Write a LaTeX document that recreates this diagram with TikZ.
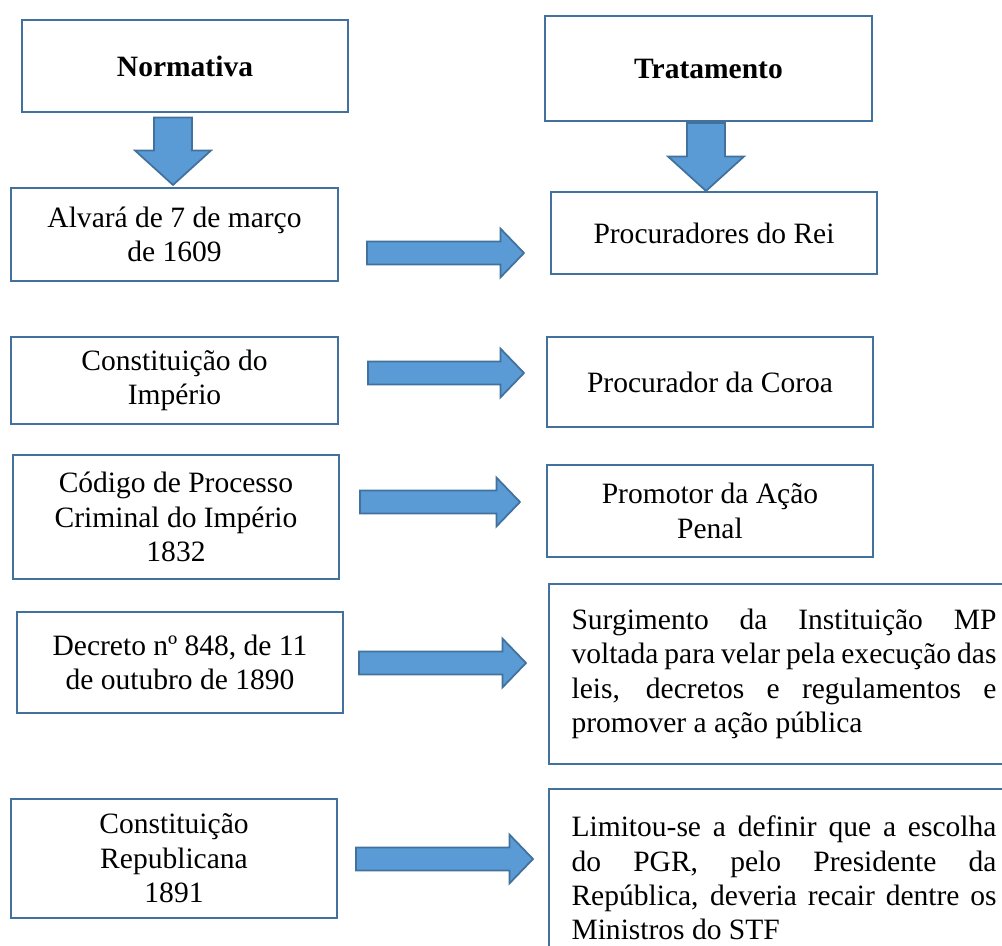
\documentclass[tikz,border=0pt]{standalone}
\usepackage{fontspec}
\setmainfont{Liberation Serif}
\usetikzlibrary{calc}
\definecolor{boxedge}{HTML}{41719C}
\definecolor{arrowfill}{HTML}{5B9BD5}

\begin{document}
\begin{tikzpicture}[
            x=0.02cm, y=-0.02cm,
            font=\fontsize{16.8}{19.6}\selectfont,
            box/.style={draw=boxedge, line width=1.2pt, align=center,
                minimum width=6.52cm, inner sep=0pt},
            textbox/.style={draw=boxedge, line width=1.2pt, anchor=north west,
                align=justify, text width=8.5cm, inner xsep=0.44cm,
                minimum width=9.4cm},
            blockarrow/.style={draw=boxedge, fill=arrowfill, line width=1pt,
                line join=miter},
            fatright/.style={blockarrow, to path={
                let \p1=(\tikztostart), \p2=(\tikztotarget) in
                (\x1,\y1+6.5pt) -- (\x2-13.4pt,\y1+6.5pt) -- (\x2-13.4pt,\y1+13.9pt)
                -- (\x2,\y1) -- (\x2-13.4pt,\y1-13.9pt) -- (\x2-13.4pt,\y1-6.5pt)
                -- (\x1,\y1-6.5pt) -- cycle}},
            fatdown/.style={blockarrow, to path={
                let \p1=(\tikztostart), \p2=(\tikztotarget) in
                (\x1+10.8pt,\y1) -- (\x1+10.8pt,\y2+19.6pt) -- (\x1+21.6pt,\y2+19.6pt)
                -- (\x1,\y2) -- (\x1-21.6pt,\y2+19.6pt) -- (\x1-10.8pt,\y2+19.6pt)
                -- (\x1-10.8pt,\y1) -- cycle}}]
            \useasboundingbox (0,0) rectangle (1002,946);
            \clip (0,0) rectangle (1002,946);

            \node [box, minimum height=1.84cm] (norm) at (185,66) {\textbf{Normativa}};
            \node [box, minimum width=6.54cm, minimum height=2.1cm] (trat) at (708.5,68.5) {\textbf{Tratamento}};

            \node [box, minimum width=6.54cm, minimum height=1.86cm] (alvara) at (174.5,234.5) {Alvará de 7 de março\\de 1609};
            \node [box, minimum height=1.64cm] (rei) at (714,233) {Procuradores do Rei};

            \node [box, minimum width=6.54cm, minimum height=1.74cm] (imperio) at (174.5,380.5) {Constituição do\\Império};
            \node [box, minimum height=1.8cm] (coroa) at (710,382) {Procurador da Coroa};

            \node [box, minimum height=2.48cm] (codigo) at (176,517) {Código de Processo\\Criminal do Império\\1832};
            \node [box, minimum height=1.84cm] (promotor) at (710,511) {Promotor da Ação\\Penal};

            \node [box, minimum height=2.02cm] (decreto) at (180,662.5) {Decreto nº 848, de 11\\de outubro de 1890};
            \node [textbox, minimum height=3.6cm] (surg) at (548,583) {Surgimento da Instituição MP\linebreak
                voltada para velar pela execução das\linebreak
                leis, decretos e regulamentos e\linebreak
                promover a ação pública};

            \node [box, minimum height=2.38cm] (repub) at (174,858.5) {Constituição\\Republicana\\1891};
            \node [textbox, minimum height=3.56cm] (limitou) at (548,788) {Limitou-se a definir que a escolha\linebreak
                do PGR, pelo Presidente da\linebreak
                República, deveria recair dentre os\linebreak
                Ministros do STF};

            \draw [fatdown] ($(norm.south)+(-12,4.5)$) to ($(alvara.north)+(-1.5,-2)$);
            \draw [fatdown] ($(trat.south)+(-2.5,1)$) to ($(rei.north)+(-8,0)$);

            \draw [fatright] ($(alvara.east)+(28,18.5)$) to ($(rei.west)+(-26,20)$);
            \draw [fatright] ($(imperio.east)+(29,-7.5)$) to ($(coroa.west)+(-22,-9)$);
            \draw [fatright] ($(codigo.east)+(20,-15)$) to ($(promotor.west)+(-26,-9)$);
            \draw [fatright] ($(decreto.east)+(15,0.5)$) to ($(surg.west)+(-22,-10)$);
            \draw [fatright] ($(repub.east)+(18,0.5)$) to ($(limitou.west)+(-15,-18)$);
\end{tikzpicture}
\end{document}
